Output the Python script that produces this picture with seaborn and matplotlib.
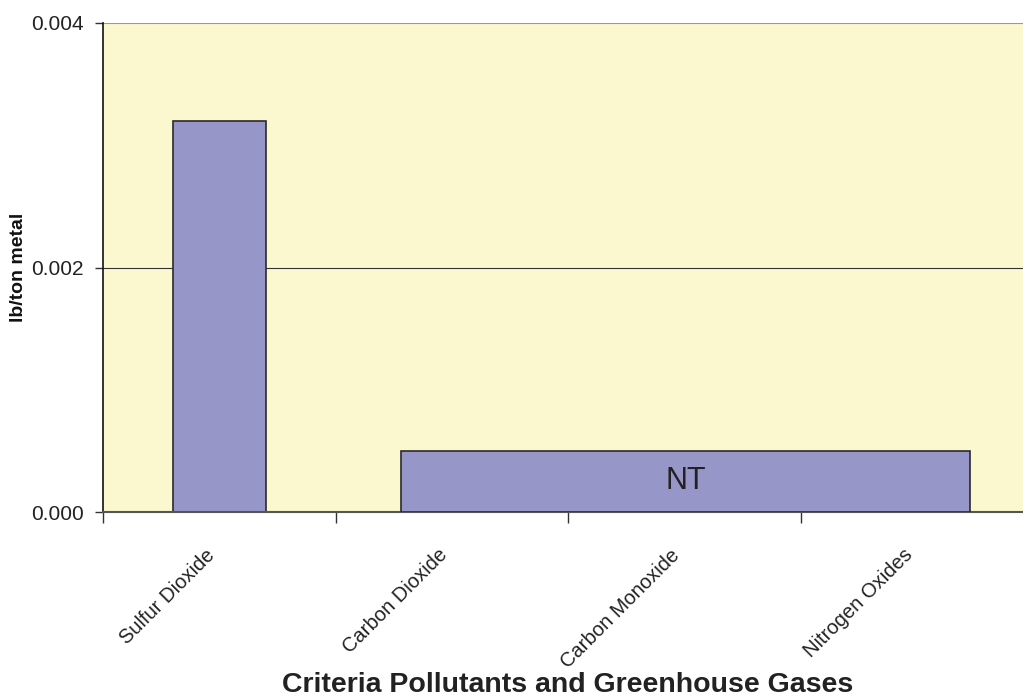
import matplotlib
matplotlib.use("Agg")
import matplotlib.pyplot as plt
import matplotlib.transforms as mtransforms
from matplotlib.ticker import FixedLocator, NullFormatter, FixedFormatter
import numpy as np
import pandas as pd
import seaborn as sns

# Emission factors (lb/ton metal)
categories = ["Sulfur Dioxide", "Carbon Dioxide", "Carbon Monoxide", "Nitrogen Oxides"]
emissions = [0.0032, np.nan, np.nan, np.nan]
# Pollutants that were not tested share one labelled bar
nt_categories = ["Carbon Dioxide", "Carbon Monoxide", "Nitrogen Oxides"]
nt_height = 0.0005
nt_label = "NT"
y_ticks = [0.000, 0.002, 0.004]

sns.set_theme(style="white")
plt.rcParams["font.family"] = ["Liberation Sans Narrow", "Liberation Sans", "DejaVu Sans"]

bar_color = "#9696C8"
face_color = "#FBF8CF"
text_color = "#222222"

fig = plt.figure(figsize=(10.23, 6.96), dpi=100)
ax = fig.add_axes([103 / 1023, 1 - 512 / 696, 930 / 1023, 489 / 696])
ax.set_facecolor(face_color)

df = pd.DataFrame({"pollutant": categories, "value": emissions})
sns.barplot(data=df, x="pollutant", y="value", order=categories, color=bar_color,
            saturation=1, width=0.4, edgecolor="#2a2a2a", linewidth=1.2, ax=ax)

# Spanning "not tested" bar across the remaining pollutants
first = categories.index(nt_categories[0])
last = categories.index(nt_categories[-1])
left = first - 0.22
right = last + 0.23
ax.bar(left, nt_height, width=right - left, align="edge", color=bar_color,
       edgecolor="#2a2a2a", linewidth=1.2, zorder=3)
ax.text((left + right) / 2, nt_height / 2, nt_label, ha="center", va="center",
        fontsize=22, color=text_color, zorder=4)

ax.set_xlim(-0.5, len(categories) - 0.5)
ax.set_ylim(0, 0.004)
ax.set_yticks(y_ticks)
ax.set_yticklabels([f"{v:.3f}" for v in y_ticks])
ax.yaxis.grid(True, color="#333333", linewidth=0.8)
ax.set_axisbelow(True)
ax.get_ygridlines()[-1].set_color("#999999")

# Tick marks at category boundaries, labels at category centres
ax.xaxis.set_major_locator(FixedLocator(np.arange(len(categories)) - 0.5))
ax.xaxis.set_major_formatter(NullFormatter())
ax.xaxis.set_minor_locator(FixedLocator(np.arange(len(categories))))
ax.xaxis.set_minor_formatter(FixedFormatter(categories))
ax.tick_params(axis="x", which="major", direction="out", length=8, width=1,
               color="#333333", bottom=True)
ax.tick_params(axis="x", which="minor", length=0, pad=24, labelsize=14.5,
               labelcolor=text_color)
ax.tick_params(axis="y", which="major", direction="out", length=6, width=1,
               color="#333333", left=True, labelsize=15, labelcolor=text_color, pad=8)
shift = mtransforms.ScaledTranslation(-14 / 100, 0, fig.dpi_scale_trans)
for lbl in ax.xaxis.get_minorticklabels():
    lbl.set_rotation(45)
    lbl.set_ha("right")
    lbl.set_va("top")
    lbl.set_rotation_mode("anchor")
    lbl.set_transform(lbl.get_transform() + shift)

ax.set_xlabel("Criteria Pollutants and Greenhouse Gases", fontsize=20.5,
              fontweight="bold", color=text_color)
ax.xaxis.set_label_coords((568 - 103) / 930, -(692 - 512) / 489)
ax.xaxis.label.set_va("baseline")
ax.set_ylabel("lb/ton metal", fontsize=14, fontweight="bold", color="#111111")
ax.yaxis.set_label_coords(-0.082, 0.5)

for side in ["top", "right"]:
    ax.spines[side].set_visible(False)
ax.spines["left"].set_color("#111111")
ax.spines["left"].set_linewidth(1.2)
ax.spines["bottom"].set_color("#555555")
ax.spines["bottom"].set_linewidth(1.5)

fig.savefig("out.png", dpi=100, facecolor="white")
